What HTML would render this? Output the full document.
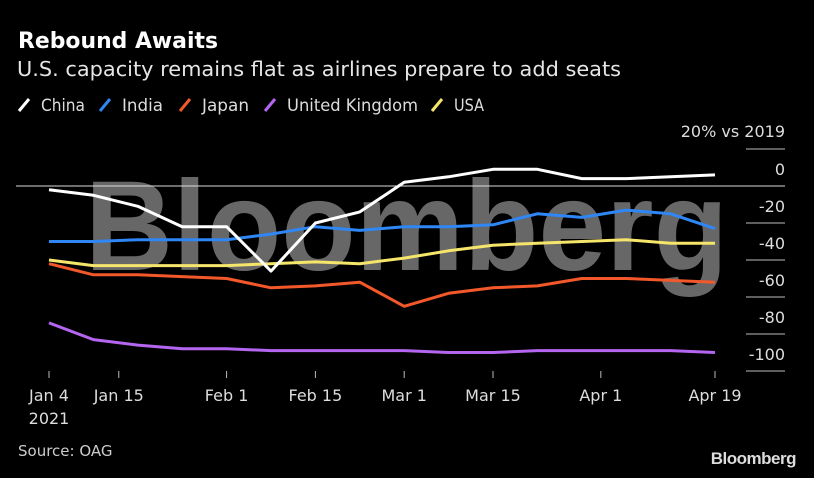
<!DOCTYPE html>
<html><head><meta charset="utf-8">
<style>
html,body{margin:0;padding:0;background:#000;}
body{width:814px;height:474px;overflow:hidden;font-family:"DejaVu Sans","Liberation Sans",sans-serif;color:#fff;}
</style></head>
<body>
<svg id="chart" width="814" height="474" viewBox="0 0 814 474" xmlns="http://www.w3.org/2000/svg">
  <text x="18" y="48" font-size="22" font-weight="bold" fill="#fff" textLength="200" lengthAdjust="spacingAndGlyphs">Rebound Awaits</text>
  <text x="17" y="76" font-size="20" fill="#e6e6e6" textLength="604" lengthAdjust="spacingAndGlyphs">U.S. capacity remains flat as airlines prepare to add seats</text>
  <g id="legend"></g>
  <text x="785" y="137" font-size="16" fill="#ddd" text-anchor="end">20% vs 2019</text>
  <g id="yaxis"></g>
  <g id="xaxis"></g>
  <text x="85" y="270" font-size="128" font-weight="bold" fill="#8a8a8a" fill-opacity="0.75" textLength="643" lengthAdjust="spacingAndGlyphs" font-family="Liberation Sans, sans-serif">Bloomberg</text>
  <line x1="16" x2="785" y1="186" y2="186" stroke="#ddd" stroke-width="1"/>
  <g id="series"></g>
  <text x="18" y="456" font-size="15" fill="#ccc">Source: OAG</text>
  <text x="796" y="464" font-size="17" font-weight="bold" fill="#ddd" text-anchor="end" font-family="Liberation Sans, sans-serif" letter-spacing="-0.5">Bloomberg</text>
</svg>
<script>
const weeks = ["Jan 4","Jan 11","Jan 18","Jan 25","Feb 1","Feb 8","Feb 15","Feb 22","Mar 1","Mar 8","Mar 15","Mar 22","Mar 29","Apr 5","Apr 12","Apr 19"];
const china = [-2,-5,-11,-22,-22,-46,-20,-14,2,5,9,9,4,4,5,6];
const india = [-30,-30,-29,-29,-29,-26,-22,-24,-22,-22,-21,-15,-17,-13,-15,-23];
const japan = [-42,-48,-48,-49,-50,-55,-54,-52,-65,-58,-55,-54,-50,-50,-51,-52];
const uk = [-74,-83,-86,-88,-88,-89,-89,-89,-89,-90,-90,-89,-89,-89,-89,-90];
const usa = [-40,-43,-43,-43,-43,-42,-41,-42,-39,-35,-32,-31,-30,-29,-31,-31];
const seriesNames = ["China","India","Japan","United Kingdom","USA"];
const seriesColors = ["#ffffff","#2f86f5","#f2582a","#b566f0","#f5e56a"];
const yTicks = [20,0,-20,-40,-60,-80,-100];
const xTickDays = [0,11,28,42,56,70,87,105];
const xTickLabels = ["Jan 4","Jan 15","Feb 1","Feb 15","Mar 1","Mar 15","Apr 1","Apr 19"];

const NS="http://www.w3.org/2000/svg";
const x0=49, x1=715, totalDays=105;
function xDay(d){return x0+(x1-x0)*d/totalDays;}
function xIdx(i){return xDay(i*7);}
function y(v){return 186-(v)*(37/20);}
function mk(tag,attrs,parent){const e=document.createElementNS(NS,tag);for(const k in attrs)e.setAttribute(k,attrs[k]);parent.appendChild(e);return e;}

const yaxis=document.getElementById('yaxis');
yTicks.forEach(v=>{
  if(v!==0){
    const l=mk('line',{x1:746,x2:785,y1:y(v),y2:y(v),stroke:'#bbb','stroke-width':1},yaxis);
    
    
  }
  if(v!==20){
    const t=mk('text',{x:785,y:y(v)-11,'font-size':16,fill:'#ddd','text-anchor':'end'},yaxis);
    t.textContent=String(v);
    
    
  }
});

const xaxis=document.getElementById('xaxis');
xTickDays.forEach((d,i)=>{
  const l=mk('line',{x1:xDay(d),x2:xDay(d),y1:371,y2:378,stroke:'#bbb','stroke-width':1},xaxis);
  
  
  const t=mk('text',{x:xDay(d),y:401,'font-size':16,fill:'#ddd','text-anchor':'middle'},xaxis);
  t.textContent=xTickLabels[i];
  
  
});
const yr=mk('text',{x:xDay(0),y:424,'font-size':16,fill:'#ddd','text-anchor':'middle'},xaxis);
yr.textContent="2021";



const allData=[china,india,japan,uk,usa];
const sg=document.getElementById('series');
const order=[3,2,4,1,0];
order.forEach(si=>{
  const pts=allData[si].map((v,i)=>xIdx(i).toFixed(1)+','+y(v).toFixed(1)).join(' ');
  const p=mk('polyline',{points:pts,fill:'none',stroke:seriesColors[si],'stroke-width':3,'stroke-linejoin':'round'},sg);
  
  
});

const lg=document.getElementById('legend');
const lx=[19,100,180,265,432];
const lw=[44,41,47,131,30];
seriesNames.forEach((n,i)=>{
  const g=mk('g',{},lg);
  
  
  mk('line',{x1:lx[i],y1:111,x2:lx[i]+10,y2:99,stroke:seriesColors[i],'stroke-width':3},g);
  const t=mk('text',{x:lx[i]+22,y:111,'font-size':17,fill:'#ddd',textLength:lw[i],lengthAdjust:'spacingAndGlyphs'},g);
  t.textContent=n;
});
</script>
</body></html>
